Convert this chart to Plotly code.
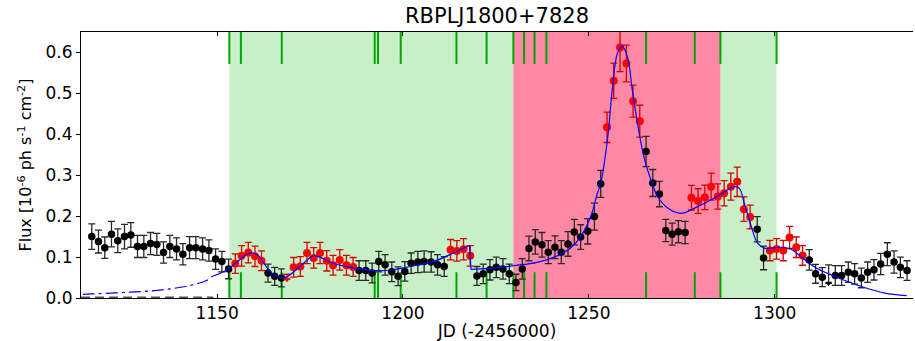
import plotly.graph_objects as go

title_text = "RBPLJ1800+7828"
x_title = "JD (-2456000)"
y_title = "Flux [10<sup>-6</sup> ph s<sup>-1</sup> cm<sup>-2</sup>]"

# black (non-selected) points
black_x = [1116.3, 1118.1, 1119.8, 1121.6, 1123.3, 1125.1, 1126.8, 1128.6, 1130.3, 1132.1,
           1133.8, 1135.6, 1137.3, 1139.1, 1140.8, 1142.6, 1144.3, 1146.1, 1147.8, 1149.6,
           1151.3, 1153.1, 1163.7, 1165.5, 1167.3, 1188.2, 1190.0, 1191.7, 1193.5, 1195.2,
           1197.0, 1198.7, 1200.5, 1202.2, 1204.0, 1205.7, 1207.6, 1209.3, 1211.1, 1219.9,
           1221.6, 1223.4, 1225.1, 1226.9, 1228.6, 1230.4, 1232.1, 1233.9, 1235.6, 1237.4,
           1239.1, 1240.9, 1242.6, 1244.4, 1246.1, 1247.8, 1249.7, 1251.5, 1253.2, 1265.4,
           1267.2, 1269.0, 1270.7, 1272.4, 1274.1, 1275.9, 1295.3, 1297.0, 1309.3, 1311.0,
           1312.8, 1316.3, 1318.0, 1319.8, 1321.5, 1323.3, 1325.0, 1326.7, 1328.5, 1330.3,
           1332.1, 1333.8, 1335.6]
black_y = [0.150, 0.138, 0.123, 0.156, 0.140, 0.150, 0.154, 0.126, 0.126, 0.133,
           0.131, 0.111, 0.126, 0.120, 0.107, 0.123, 0.123, 0.120, 0.116, 0.095,
           0.089, 0.071, 0.061, 0.053, 0.049, 0.067, 0.067, 0.061, 0.089, 0.081,
           0.064, 0.053, 0.065, 0.085, 0.088, 0.089, 0.088, 0.081, 0.077, 0.054,
           0.059, 0.069, 0.075, 0.071, 0.059, 0.038, 0.071, 0.121, 0.137, 0.130,
           0.112, 0.124, 0.112, 0.132, 0.161, 0.149, 0.163, 0.199, 0.279, 0.358,
           0.281, 0.254, 0.165, 0.156, 0.162, 0.160, 0.168, 0.098, 0.093, 0.059,
           0.051, 0.055, 0.055, 0.063, 0.059, 0.049, 0.063, 0.069, 0.083, 0.107,
           0.088, 0.075, 0.067]
black_err = [0.031, 0.028, 0.026, 0.031, 0.029, 0.030, 0.030, 0.027, 0.027, 0.027,
             0.027, 0.026, 0.027, 0.027, 0.026, 0.027, 0.027, 0.027, 0.026, 0.025,
             0.025, 0.024, 0.022, 0.022, 0.022, 0.024, 0.024, 0.024, 0.025, 0.025,
             0.024, 0.023, 0.024, 0.025, 0.026, 0.026, 0.025, 0.025, 0.024, 0.023,
             0.024, 0.025, 0.025, 0.025, 0.024, 0.020, 0.025, 0.030, 0.030, 0.030,
             0.028, 0.028, 0.028, 0.030, 0.031, 0.030, 0.031, 0.033, 0.033, 0.037,
             0.033, 0.031, 0.027, 0.027, 0.027, 0.027, 0.031, 0.029, 0.025, 0.023,
             0.023, 0.024, 0.024, 0.025, 0.025, 0.024, 0.025, 0.025, 0.026, 0.028,
             0.027, 0.025, 0.024]

# red (selected) points
red_x = [1154.9, 1156.6, 1158.4, 1160.2, 1161.95, 1170.6, 1172.4, 1174.2, 1176.0, 1177.7,
         1179.5, 1181.2, 1183.0, 1184.8, 1186.6, 1212.8, 1214.5, 1216.3, 1218.1, 1254.9,
         1256.7, 1258.4, 1260.1, 1261.9, 1263.7, 1277.6, 1279.4, 1281.2, 1282.9, 1284.7,
         1286.4, 1288.2, 1289.9, 1291.7, 1293.4, 1298.7, 1300.5, 1302.3, 1304.0, 1305.8,
         1307.5]
red_y = [0.084, 0.103, 0.111, 0.102, 0.091, 0.075, 0.077, 0.110, 0.098, 0.110,
         0.091, 0.080, 0.093, 0.080, 0.076, 0.118, 0.115, 0.119, 0.103, 0.417,
         0.531, 0.612, 0.573, 0.481, 0.432, 0.245, 0.237, 0.246, 0.272, 0.248,
         0.256, 0.272, 0.284, 0.217, 0.198, 0.116, 0.120, 0.116, 0.148, 0.124,
         0.104]
red_err = [0.024, 0.025, 0.025, 0.025, 0.024, 0.024, 0.024, 0.026, 0.025, 0.026,
           0.025, 0.024, 0.025, 0.024, 0.023, 0.025, 0.025, 0.026, 0.025, 0.037,
           0.043, 0.059, 0.045, 0.039, 0.039, 0.030, 0.030, 0.030, 0.033, 0.031,
           0.031, 0.033, 0.036, 0.030, 0.029, 0.025, 0.025, 0.025, 0.027, 0.025,
           0.024]

# upper-limit style points (down triangles)
lim_black_x = [1314.5]
lim_black_y = [0.036]
lim_black_up = [0.045]
lim_red_x = [1168.8]
lim_red_y = [0.046]
lim_red_up = [0.012]

# model curve (blue)
model_dash_x = [1113.9, 1116.3, 1126.3, 1135.3, 1142.5, 1147.0, 1148.8]
model_dash_y = [0.009, 0.010, 0.014, 0.020, 0.030, 0.042, 0.053]
model1_x = [1148.8, 1153.1, 1156.0, 1158.3, 1159.6, 1161.4, 1163.2, 1165.0, 1167.3, 1168.6,
            1171.3, 1174.0, 1175.8, 1177.6, 1181.2, 1184.8, 1187.9, 1192.0, 1197.4, 1201.9,
            1208.2, 1213.6, 1217.2, 1217.9]
model1_y = [0.053, 0.071, 0.093, 0.108, 0.110, 0.101, 0.077, 0.059, 0.049, 0.051,
            0.069, 0.091, 0.103, 0.100, 0.085, 0.077, 0.071, 0.067, 0.069, 0.077,
            0.089, 0.110, 0.126, 0.128]
model_jump_x = [1217.9, 1218.3]
model_jump_y = [0.128, 0.070]
model2_x = [1218.3, 1226.2, 1229.8, 1236.1, 1241.5, 1245.1, 1247.8, 1250.5, 1252.3, 1253.2,
            1255.0, 1256.3, 1257.7, 1259.0, 1260.4, 1261.7, 1263.1, 1264.8, 1266.7, 1268.5,
            1271.2, 1274.8, 1278.3, 1282.9, 1285.6, 1289.1, 1290.5, 1291.8, 1293.7, 1295.4,
            1297.2, 1301.7, 1304.4, 1307.1, 1310.7, 1316.1, 1323.3, 1329.6, 1335.5]
model2_y = [0.070, 0.075, 0.079, 0.087, 0.103, 0.122, 0.150, 0.199, 0.256, 0.280,
            0.386, 0.508, 0.598, 0.615, 0.589, 0.508, 0.427, 0.345, 0.289, 0.248,
            0.220, 0.207, 0.219, 0.240, 0.254, 0.272, 0.268, 0.232, 0.175, 0.134,
            0.122, 0.124, 0.119, 0.101, 0.076, 0.053, 0.028, 0.012, 0.006]

# dashed baseline
base_x = [1113.4, 1149.0]
base_y = [0.002, 0.002]

# shaded intervals
green_spans = [(1153.3, 1229.7), (1285.4, 1300.5)]
red_spans = [(1229.7, 1285.4)]
# green marker lines
mark_x = [1153.3, 1156.4, 1167.4, 1192.4, 1193.3, 1199.4, 1214.4, 1222.5, 1229.7, 1232.6,
          1235.4, 1238.6, 1265.4, 1278.5, 1285.4, 1300.5]
mark_top = [0.572, 0.65]
mark_bot = [0.0, 0.063]

x_range = [1113.4, 1337.2]
y_range = [0.0, 0.65]

FONT = "DejaVu Sans"

fig = go.Figure()

shapes = []
for a, b in green_spans:
    shapes.append(dict(type="rect", xref="x", yref="y", x0=a, x1=b, y0=y_range[0], y1=y_range[1],
                       fillcolor="rgb(200,240,200)", line=dict(width=0), layer="below"))
for a, b in red_spans:
    shapes.append(dict(type="rect", xref="x", yref="y", x0=a, x1=b, y0=y_range[0], y1=y_range[1],
                       fillcolor="rgb(255,136,164)", line=dict(width=0), layer="below"))
for mx in mark_x:
    for y0, y1 in (mark_top, mark_bot):
        shapes.append(dict(type="line", xref="x", yref="y", x0=mx, x1=mx, y0=y0, y1=y1,
                           line=dict(color="rgb(0,165,0)", width=2), layer="below"))

fig.add_trace(go.Scatter(x=base_x, y=base_y, mode="lines",
                         line=dict(color="#555555", width=1.5, dash="9px,5px")))
fig.add_trace(go.Scatter(x=model_dash_x, y=model_dash_y, mode="lines", line_shape="spline",
                         line=dict(color="blue", width=1.2, dash="12px,4px,3px,4px")))

fig.add_trace(go.Scatter(
    x=black_x, y=black_y, mode="markers",
    marker=dict(color="black", size=7.5),
    error_y=dict(type="data", array=black_err, color="rgb(40,40,40)", thickness=1.3, width=3.5)))
fig.add_trace(go.Scatter(
    x=red_x, y=red_y, mode="markers",
    marker=dict(color="red", size=8),
    error_y=dict(type="data", array=red_err, color="rgb(215,0,0)", thickness=1.3, width=3.5)))
fig.add_trace(go.Scatter(
    x=lim_black_x, y=lim_black_y, mode="markers",
    marker=dict(color="black", size=6, symbol="triangle-down"),
    error_y=dict(type="data", symmetric=False, array=lim_black_up, arrayminus=[0],
                 color="rgb(40,40,40)", thickness=1.3, width=3.5)))
fig.add_trace(go.Scatter(
    x=lim_red_x, y=lim_red_y, mode="markers",
    marker=dict(color="red", size=6, symbol="triangle-down"),
    error_y=dict(type="data", symmetric=False, array=lim_red_up, arrayminus=[0],
                 color="rgb(215,0,0)", thickness=1.3, width=3.5)))

for mx_, my_, shp in ((model1_x, model1_y, "spline"), (model_jump_x, model_jump_y, "linear"),
                      (model2_x, model2_y, "spline")):
    fig.add_trace(go.Scatter(x=mx_, y=my_, mode="lines", line_shape=shp,
                             line=dict(color="blue", width=1.2)))

fig.update_layout(
    width=915, height=341,
    margin=dict(l=81, r=2, t=32, b=43, autoexpand=False),
    paper_bgcolor="white", plot_bgcolor="white",
    showlegend=False,
    shapes=shapes,
    font=dict(family=FONT, color="black", size=17),
    title=dict(text=title_text, x=0.5, xref="paper", xanchor="center",
               y=0.955, yref="container", yanchor="middle",
               font=dict(family=FONT, size=21, color="black")),
    xaxis=dict(range=x_range, tickvals=[1150, 1200, 1250, 1300], ticks="inside", ticklen=4,
               tickcolor="black", showline=True, linecolor="black", linewidth=1,
               mirror="ticks", showgrid=False, zeroline=False, automargin=False,
               tickfont=dict(family=FONT, size=17),
               title=dict(text=x_title, standoff=10, font=dict(family=FONT, size=17))),
    yaxis=dict(range=y_range, tickvals=[0, 0.1, 0.2, 0.3, 0.4, 0.5, 0.6], tickformat=".1f",
               ticks="outside", ticklen=4, tickcolor="black", showline=True,
               linecolor="black", linewidth=1, mirror=False, showgrid=False, zeroline=False,
               automargin=False,
               tickfont=dict(family=FONT, size=17),
               title=dict(text=y_title, standoff=9, font=dict(family=FONT, size=16))),
)

fig.write_html("out.html")
